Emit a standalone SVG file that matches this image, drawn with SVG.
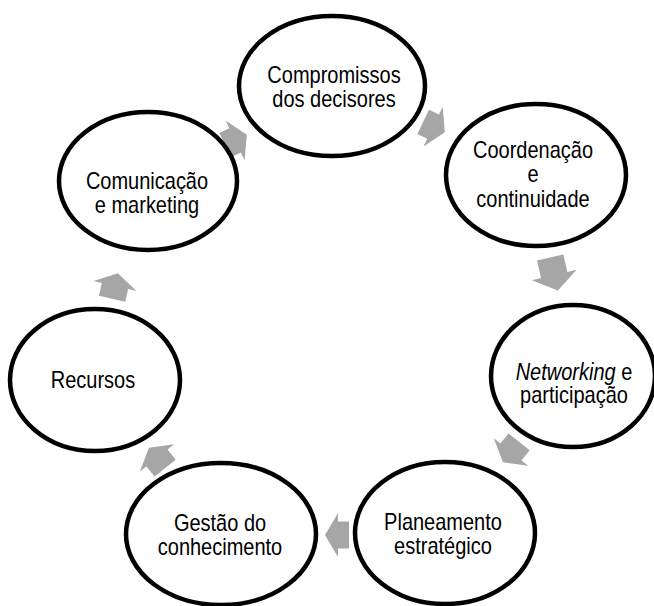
<svg xmlns="http://www.w3.org/2000/svg" width="654" height="606" viewBox="0 0 654 606">
<style>
.node ellipse{fill:#fff;stroke:#000;stroke-width:4.5}
.node text{font-family:"Liberation Sans",Arial,sans-serif;font-size:20px;fill:#000;text-anchor:middle}
.arr{fill:#a6a6a6}
</style>
<defs>
<polygon id="a24" points="-12,-13.5 -1,-13.5 -1,-22 12,0 -1,22 -1,13.5 -12,13.5"/>
<polygon id="a26" points="-13,-13.5 0,-13.5 0,-22 13,0 0,22 0,13.5 -13,13.5"/>
<polygon id="a34" points="-17,-13.5 1,-13.5 1,-23 17,0 1,23 1,13.5 -17,13.5"/>
</defs>
<rect width="654" height="606" fill="#fff"/>
<g id="connectors" class="arr">
<use href="#a24" transform="translate(434,127) rotate(25.7)"/>
<use href="#a34" transform="translate(554,274) rotate(77)"/>
<use href="#a26" transform="translate(511,452) rotate(128.6)"/>
<use href="#a24" transform="translate(337,535) rotate(180)"/>
<use href="#a26" transform="translate(157,458) rotate(-128.6)"/>
<use href="#a26" transform="translate(115,286) rotate(-77)"/>
<use href="#a24" transform="translate(236,140) rotate(-25.7)"/>
</g>
<g id="n1" class="node">
<ellipse cx="332" cy="86" rx="93" ry="70"/>
<text transform="matrix(1,0,0,1.2,334,83)">Compromissos</text>
<text transform="matrix(1,0,0,1.2,334,107)">dos decisores</text>
</g>
<g id="n2" class="node">
<ellipse cx="536" cy="175" rx="90" ry="71"/>
<text transform="matrix(1,0,0,1.2,533,158)">Coordenação</text>
<text transform="matrix(1,0,0,1.2,533,182)">e</text>
<text transform="matrix(1,0,0,1.2,533,207)">continuidade</text>
</g>
<g id="n3" class="node">
<ellipse cx="573" cy="376" rx="82" ry="71"/>
<text transform="matrix(1,0,0,1.2,574,380)"><tspan font-style="italic">Networking</tspan> e</text>
<text transform="matrix(1,0,0,1.2,574,403)">participação</text>
</g>
<g id="n4" class="node">
<ellipse cx="445" cy="533" rx="90" ry="71"/>
<text transform="matrix(1,0,0,1.2,443,530)">Planeamento</text>
<text transform="matrix(1,0,0,1.2,443,554)">estratégico</text>
</g>
<g id="n5" class="node">
<ellipse cx="221" cy="534" rx="95" ry="71"/>
<text transform="matrix(1,0,0,1.2,220,531)">Gestão do</text>
<text transform="matrix(1,0,0,1.2,220,555)">conhecimento</text>
</g>
<g id="n6" class="node">
<ellipse cx="95" cy="380" rx="85" ry="71"/>
<text transform="matrix(1,0,0,1.2,93,388)">Recursos</text>
</g>
<g id="n7" class="node">
<ellipse cx="148" cy="181" rx="89" ry="69"/>
<text transform="matrix(1,0,0,1.2,147,189)">Comunicação</text>
<text transform="matrix(1,0,0,1.2,147,213)">e marketing</text>
</g>
</svg>
